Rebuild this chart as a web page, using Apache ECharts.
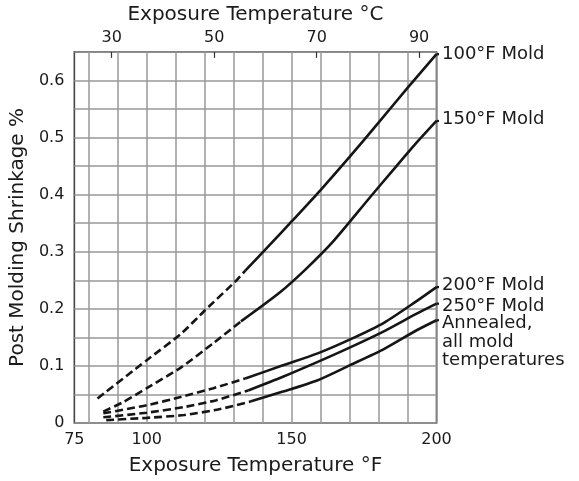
<!DOCTYPE html>
<html><head><meta charset="utf-8">
<script src="https://cdn.jsdelivr.net/npm/echarts@6/dist/echarts.min.js"></script>
<style>html,body{margin:0;padding:0;background:#fff}#c{width:579px;height:481px}</style>
</head><body><div id="c"></div>
<script>
// Tick labels
const fTickLabels = [75, 100, 150, 200];
const cTickLabels = [30, 50, 70, 90];
const yTickLabels = [0, 0.1, 0.2, 0.3, 0.4, 0.5, 0.6];

// Curve names
const curveNames = ['100°F Mold', '150°F Mold', '200°F Mold', '250°F Mold', 'Annealed,\nall mold\ntemperatures'];

// 100°F Mold
const mold100DashF = [83, 100, 112, 120, 131, 134];
const mold100DashV = [0.043, 0.110, 0.157, 0.197, 0.250, 0.267];
const mold100SolidF = [134, 143, 150, 160, 170, 180, 190, 200];
const mold100SolidV = [0.267, 0.315, 0.353, 0.408, 0.466, 0.526, 0.587, 0.646];

// 150°F Mold
const mold150DashF = [85, 92, 100, 112, 123, 132.5];
const mold150DashV = [0.020, 0.037, 0.061, 0.098, 0.140, 0.178];
const mold150SolidF = [132.5, 146, 155, 164.5, 177, 185, 192.6, 200];
const mold150SolidV = [0.178, 0.229, 0.270, 0.319, 0.395, 0.443, 0.488, 0.529];

// 200°F Mold
const mold200DashF = [85, 100, 112, 123, 134];
const mold200DashV = [0.017, 0.031, 0.046, 0.061, 0.078];
const mold200SolidF = [134, 147, 159, 170, 182, 193, 200];
const mold200SolidV = [0.078, 0.101, 0.122, 0.146, 0.176, 0.213, 0.238];

// 250°F Mold
const mold250DashF = [85, 100, 113, 124, 135];
const mold250DashV = [0.010, 0.018, 0.028, 0.040, 0.057];
const mold250SolidF = [135, 147, 159, 170, 182, 193, 200];
const mold250SolidV = [0.057, 0.081, 0.107, 0.132, 0.161, 0.191, 0.209];

// Annealed
const annealDashF = [86, 100, 113, 125, 136];
const annealDashV = [0.005, 0.009, 0.014, 0.024, 0.038];
const annealSolidF = [136, 147, 159, 170, 182, 193, 200];
const annealSolidV = [0.038, 0.055, 0.075, 0.101, 0.130, 0.162, 0.180];

// leader hook end (°F) between curve end and its label
const leaderF = 202.5;

const FONT = 'DejaVu Sans';
const TXT = '#1a1a1a';
const LINE = '#151515';
const labelNudge = [[0, 0], [0, -2], [0, -2], [0, 3], [0, -6]];

function pairs(f, v) { return f.map((x, i) => [x, v[i]]); }

const curves = [
  [mold100DashF, mold100DashV, mold100SolidF, mold100SolidV],
  [mold150DashF, mold150DashV, mold150SolidF, mold150SolidV],
  [mold200DashF, mold200DashV, mold200SolidF, mold200SolidV],
  [mold250DashF, mold250DashV, mold250SolidF, mold250SolidV],
  [annealDashF, annealDashV, annealSolidF, annealSolidV]
];

const series = [];
curves.forEach((c, i) => {
  series.push({
    type: 'line', name: curveNames[i] + ' dashed', data: pairs(c[0], c[1]),
    smooth: 0.2, showSymbol: false, symbol: 'none',
    lineStyle: { color: LINE, width: 2.6, type: [8, 4] }, clip: false, silent: true
  });
  series.push({
    type: 'line', name: curveNames[i], data: pairs(c[2], c[3]),
    smooth: 0.25, showSymbol: false, symbol: 'none',
    lineStyle: { color: LINE, width: 2.6 }, clip: false, silent: true
  });
  const lastF = c[2][c[2].length - 1];
  const lastV = c[3][c[3].length - 1];
  const isMulti = curveNames[i].indexOf('\n') >= 0;
  series.push({
    type: 'line', name: curveNames[i] + ' leader', data: [[lastF, lastV], [leaderF, lastV]],
    smooth: false, showSymbol: false, symbol: 'none',
    lineStyle: { color: LINE, width: 2.2 }, clip: false, silent: true,
    endLabel: {
      show: true, formatter: curveNames[i], color: TXT, fontFamily: FONT, fontSize: 18,
      lineHeight: 18.5, distance: 3, align: 'left',
      verticalAlign: isMulti ? 'top' : 'middle', offset: labelNudge[i]
    }
  });
});

const chart = echarts.init(document.getElementById('c'), null, { renderer: 'canvas' });
chart.setOption({
  animation: false,
  backgroundColor: '#fff',
  grid: { left: 73.5, right: 142.5, top: 50.5, bottom: 58, show: true, borderColor: '#444', borderWidth: 1.6, backgroundColor: 'transparent' },
  xAxis: [
    {
      type: 'value', position: 'bottom', min: 75, max: 200, interval: 5,
      axisLine: { show: false }, axisTick: { show: false },
      splitLine: { show: true, lineStyle: { color: ['rgba(0,0,0,0)', '#999999'], width: 1.5 } },
      axisLabel: {
        margin: 9, fontSize: 16, fontFamily: FONT, color: TXT,
        formatter: v => fTickLabels.indexOf(Math.round(v)) >= 0 ? String(Math.round(v)) : ''
      },
      name: 'Exposure Temperature °F', nameLocation: 'middle', nameGap: 33,
      nameTextStyle: { fontSize: 20, fontFamily: FONT, color: TXT }
    },
    {
      type: 'value', position: 'top', min: 22.7, max: 93.4,
      axisLine: { show: false }, splitLine: { show: false },
      axisTick: { show: true, inside: true, length: 6, customValues: cTickLabels, lineStyle: { color: '#333', width: 1.2 } },
      axisLabel: { customValues: cTickLabels, margin: 6, fontSize: 16, fontFamily: FONT, color: TXT },
      name: 'Exposure Temperature °C', nameLocation: 'middle', nameGap: 25,
      nameTextStyle: { fontSize: 20, fontFamily: FONT, color: TXT }
    }
  ],
  yAxis: {
    type: 'value', min: 0, max: 0.65, interval: 0.05,
    axisLine: { show: false }, axisTick: { show: false },
    splitLine: { show: true, lineStyle: { color: '#999999', width: 1.5 } },
    axisLabel: {
      margin: 10, fontSize: 16, fontFamily: FONT, color: TXT,
      formatter: v => {
        const r = Math.round(v * 100) / 100;
        if (yTickLabels.some(t => Math.abs(t - r) < 1e-9)) return r === 0 ? '0' : r.toFixed(1);
        return '';
      }
    },
    name: 'Post Molding Shrinkage %', nameLocation: 'middle', nameGap: 44,
    nameTextStyle: { fontSize: 20, fontFamily: FONT, color: TXT }
  },
  series: series
});
</script></body></html>
